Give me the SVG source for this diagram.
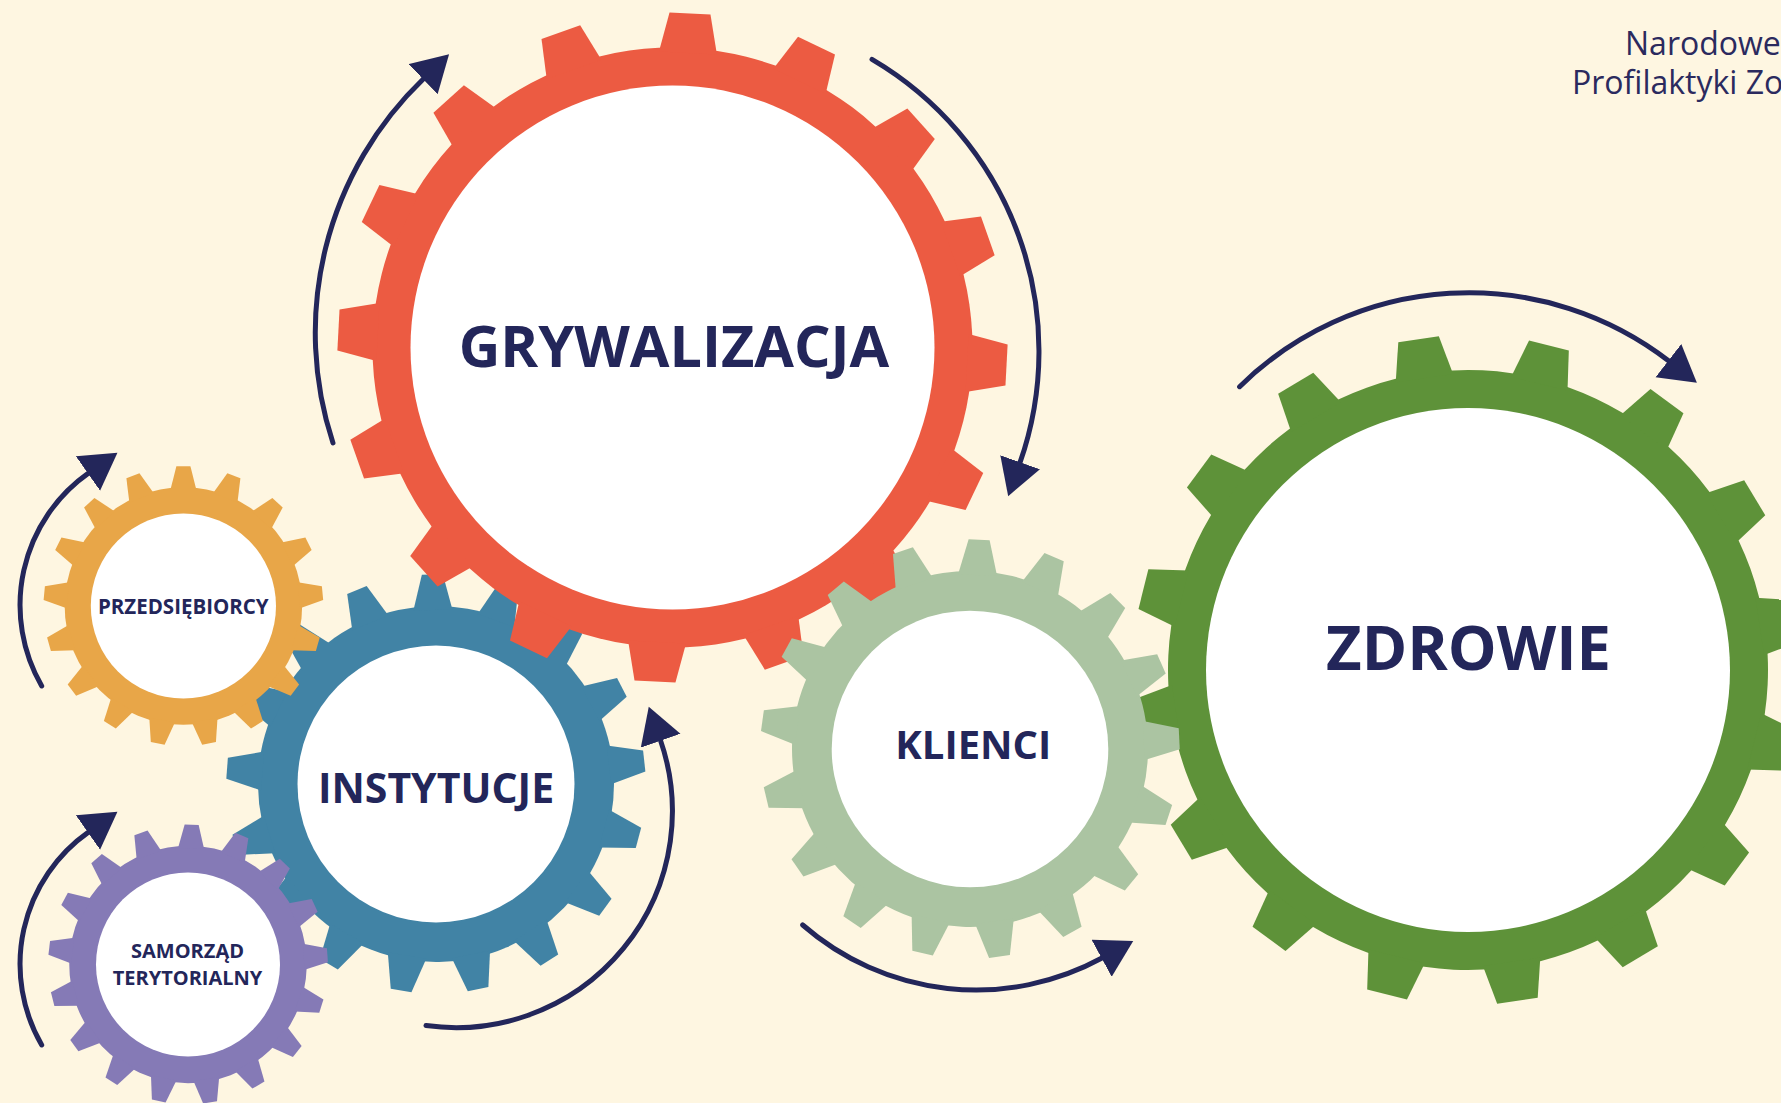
<svg xmlns="http://www.w3.org/2000/svg" width="1781" height="1103" viewBox="0 0 1781 1103">
<style>
.lbl{font-family:"Open Sans","Noto Sans","Liberation Sans",sans-serif;font-weight:700;fill:#23265A;text-anchor:middle}
.hdr{font-family:"Open Sans","Noto Sans","Liberation Sans",sans-serif;font-weight:400;fill:#2B2A5E;font-size:32px}
.arc{fill:none;stroke:#23265A;stroke-width:5;stroke-linecap:round;marker-end:url(#ah)}
.hole{fill:#FFFFFF}
</style>
<defs>
<marker id="ah" markerUnits="userSpaceOnUse" markerWidth="38" markerHeight="44" viewBox="0 0 38 44" refX="1" refY="21" orient="auto">
<path d="M0,0 L36,21 L0,42 Z" fill="#23265A"/>
</marker>
<path id="t16" d="M-29,-295 L29,-295 L20.5,-334.5 L-20.5,-334.5 Z"/>
<path id="t17" d="M-19.5,-174 L19.5,-174 L10.5,-209.5 L-10.5,-209.5 Z"/>
<g id="gear16">
<circle r="300"/>
<use href="#t16"/>
<use href="#t16" transform="rotate(22.5)"/>
<use href="#t16" transform="rotate(45)"/>
<use href="#t16" transform="rotate(67.5)"/>
<use href="#t16" transform="rotate(90)"/>
<use href="#t16" transform="rotate(112.5)"/>
<use href="#t16" transform="rotate(135)"/>
<use href="#t16" transform="rotate(157.5)"/>
<use href="#t16" transform="rotate(180)"/>
<use href="#t16" transform="rotate(202.5)"/>
<use href="#t16" transform="rotate(225)"/>
<use href="#t16" transform="rotate(247.5)"/>
<use href="#t16" transform="rotate(270)"/>
<use href="#t16" transform="rotate(292.5)"/>
<use href="#t16" transform="rotate(315)"/>
<use href="#t16" transform="rotate(337.5)"/>
</g>
<g id="gear17">
<circle r="178"/>
<use href="#t17"/>
<use href="#t17" transform="rotate(21.176)"/>
<use href="#t17" transform="rotate(42.353)"/>
<use href="#t17" transform="rotate(63.529)"/>
<use href="#t17" transform="rotate(84.706)"/>
<use href="#t17" transform="rotate(105.882)"/>
<use href="#t17" transform="rotate(127.059)"/>
<use href="#t17" transform="rotate(148.235)"/>
<use href="#t17" transform="rotate(169.412)"/>
<use href="#t17" transform="rotate(190.588)"/>
<use href="#t17" transform="rotate(211.765)"/>
<use href="#t17" transform="rotate(232.941)"/>
<use href="#t17" transform="rotate(254.118)"/>
<use href="#t17" transform="rotate(275.294)"/>
<use href="#t17" transform="rotate(296.471)"/>
<use href="#t17" transform="rotate(317.647)"/>
<use href="#t17" transform="rotate(338.824)"/>
</g>
</defs>
<rect width="1781" height="1103" fill="#FEF6E1"/>

<g id="node-zdrowie">
<use href="#gear16" fill="#5E9239" transform="translate(1468,670) rotate(-8.5)"/>
<circle class="hole" cx="1468" cy="670" r="262"/>
<text class="lbl" x="1468.5" y="670" font-size="61.5">ZDROWIE</text>
</g>

<g id="node-instytucje">
<use href="#gear17" fill="#4183A5" transform="translate(436,784) rotate(-1)"/>
<circle class="hole" cx="436" cy="784" r="138.5"/>
<text class="lbl" x="436" y="802.7" font-size="41">INSTYTUCJE</text>
</g>

<g id="node-przedsiebiorcy">
<use href="#gear17" fill="#E8A648" transform="translate(183.4,606) rotate(0) scale(0.667)"/>
<circle class="hole" cx="183.4" cy="606" r="92.6"/>
<text class="lbl" x="183.3" y="614" font-size="20.5">PRZEDSIĘBIORCY</text>
</g>

<g id="node-samorzad">
<use href="#gear17" fill="#857AB6" transform="translate(188,964.4) rotate(1.5) scale(0.667)"/>
<circle class="hole" cx="188" cy="964.4" r="92"/>
<text class="lbl" x="187.5" y="958.3" font-size="20">SAMORZĄD</text>
<text class="lbl" x="187.5" y="985" font-size="20">TERYTORIALNY</text>
</g>

<g id="node-grywalizacja">
<use href="#gear16" fill="#EC5B42" transform="translate(672.5,347.5) rotate(3)"/>
<circle class="hole" cx="672.5" cy="347.5" r="262"/>
<text class="lbl" x="674" y="367" font-size="57.5">GRYWALIZACJA</text>
</g>

<g id="node-klienci">
<use href="#gear17" fill="#ABC4A2" transform="translate(970,749) rotate(2.5)"/>
<circle class="hole" cx="970" cy="749" r="138.3"/>
<text class="lbl" x="973.3" y="759.3" font-size="40">KLIENCI</text>
</g>

<g id="connectors">
<path class="arc" d="M333,443 A352,352 0 0 1 423.8,78.5"/>
<path class="arc" d="M872,59.4 A338,338 0 0 1 1019.8,463.2"/>
<path class="arc" d="M1239.6,386.7 A327,327 0 0 1 1669.2,361.2"/>
<path class="arc" d="M802.7,925 A264,264 0 0 0 1102.5,957.8"/>
<path class="arc" d="M426,1025.6 A216.5,216.5 0 0 0 660.3,739.8"/>
<path class="arc" d="M41.7,686 A161.6,161.6 0 0 1 88.8,472.9"/>
<path class="arc" d="M41.7,1045 A161.6,161.6 0 0 1 88.8,831.9"/>
</g>

<g id="header">
<text class="hdr" x="1625" y="55">Narodowe</text>
<text class="hdr" x="1572" y="94">Profilaktyki Zo</text>
</g>
</svg>
